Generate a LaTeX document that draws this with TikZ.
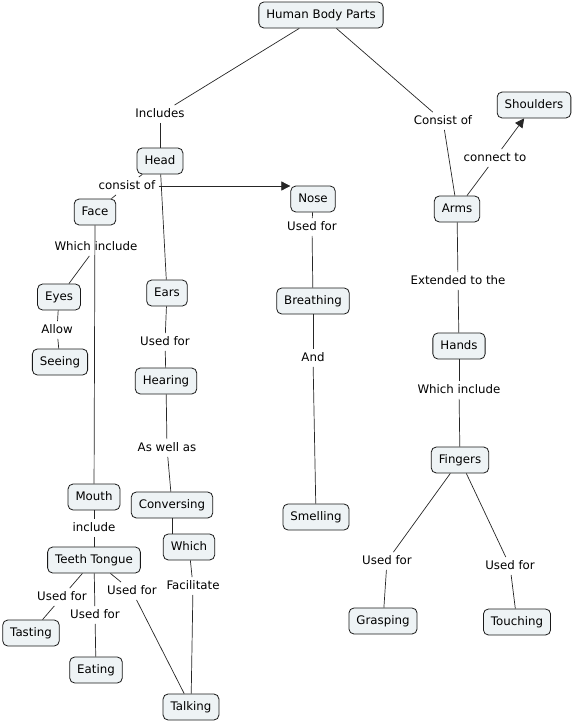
\documentclass[tikz,border=0pt]{standalone}
\usepackage{fontspec}
\setmainfont{DejaVu Sans}
\usepackage{tikz}
\usetikzlibrary{arrows.meta, positioning}
\usepackage{xcolor}
\definecolor{conceptfill}{HTML}{EEF3F5}
\tikzstyle{concept} = [draw=black!90, fill=conceptfill, rounded corners=5pt, line width=0.8pt, minimum height=26pt, inner xsep=7.5pt, text height=8.7pt, text depth=2.5pt, font=\fontsize{11.8}{13}\selectfont]
\tikzstyle{phrase} = [inner xsep=3pt, inner ysep=3pt, text height=8.7pt, text depth=2.5pt, font=\fontsize{11.8}{13}\selectfont]
\tikzstyle{arrow} = [->,>={Triangle[length=9pt,width=9pt]}]

\begin{document}
\begin{tikzpicture}[x=1pt, y=-1pt, line width=0.7pt, draw=black!85]
    \useasboundingbox (0,0) rectangle (573,723);
    % concepts
    \node[concept] (body) at (321,15) {Human Body Parts};
    \node[concept] (head) at (160,161) {Head};
    \node[concept] (face) at (95,212) {Face};
    \node[concept] (nose) at (313,199) {Nose};
    \node[concept] (ears) at (167,293) {Ears};
    \node[concept] (eyes) at (59,297) {Eyes};
    \node[concept] (seeing) at (60,362) {Seeing};
    \node[concept] (mouth) at (94,497) {Mouth};
    \node[concept] (teeth) at (94,560) {Teeth Tongue};
    \node[concept] (tasting) at (31,633) {Tasting};
    \node[concept] (eating) at (96,670) {Eating};
    \node[concept] (talking) at (191,707) {Talking};
    \node[concept] (hearing) at (166,381) {Hearing};
    \node[concept] (conversing) at (172,505) {Conversing};
    \node[concept] (which) at (189,547) {Which};
    \node[concept] (breathing) at (313,301) {Breathing};
    \node[concept] (smelling) at (316,517) {Smelling};
    \node[concept] (arms) at (457,209) {Arms};
    \node[concept] (shoulders) at (534,105) {Shoulders};
    \node[concept] (hands) at (459,346) {Hands};
    \node[concept] (fingers) at (460,460) {Fingers};
    \node[concept] (grasping) at (383,621) {Grasping};
    \node[concept] (touching) at (517,622) {Touching};
    % linking phrases
    \node[phrase] (includes) at (160,114) {Includes};
    \node[phrase] (consist) at (127,186) {consist of};
    \node[phrase] (consistof) at (443,121) {Consist of};
    \node[phrase] (connect) at (495,158) {connect to};
    \node[phrase] (whichface) at (96,247) {Which include};
    \node[phrase] (allow) at (57,330) {Allow};
    \node[phrase] (include) at (94,528) {include};
    \node[phrase] (usedtaste) at (62,597) {Used for};
    \node[phrase] (usedeat) at (95,615) {Used for};
    \node[phrase] (usedtalk) at (132,591) {Used for};
    \node[phrase] (usedhear) at (165,342) {Used for};
    \node[phrase] (aswell) at (167,448) {As well as};
    \node[phrase] (facilitate) at (193,586) {Facilitate};
    \node[phrase] (usednose) at (312,227) {Used for};
    \node[phrase] (and) at (313,358) {And};
    \node[phrase] (extended) at (458,281) {Extended to the};
    \node[phrase] (whichhand) at (459,390) {Which include};
    \node[phrase] (usedgrasp) at (387,561) {Used for};
    \node[phrase] (usedtouch) at (510,566) {Used for};
    % links
    \draw (body) edge (includes)
        (includes) edge (head)
        (head) edge (consist)
        (consist) edge (face)
        (consist.east) edge[arrow] (consist.east -| nose.west)
        (head) edge (ears)
        (face) edge (mouth)
        (whichface) edge (eyes)
        (eyes) edge (allow)
        (allow) edge (seeing)
        (mouth) edge (include)
        (include) edge (teeth)
        (teeth) edge (usedtaste)
        (usedtaste) edge (tasting)
        (teeth) edge (usedeat)
        (usedeat) edge (eating)
        (teeth) edge (usedtalk)
        (usedtalk) edge (talking)
        (ears) edge (usedhear)
        (usedhear) edge (hearing)
        (hearing) edge (aswell)
        (aswell) edge (conversing)
        (conversing.south) edge (conversing.south |- which.north)
        (which) edge (facilitate)
        (facilitate) edge (talking)
        (nose) edge (usednose)
        (usednose) edge (breathing)
        (breathing) edge (and)
        (and) edge (smelling)
        (body) edge (consistof)
        (consistof) edge (arms)
        (arms) edge (connect)
        (connect) edge[arrow] (shoulders)
        (arms) edge (extended)
        (extended) edge (hands)
        (hands) edge (whichhand)
        (whichhand) edge (fingers)
        (fingers) edge (usedgrasp)
        (usedgrasp) edge (grasping)
        (fingers) edge (usedtouch)
        (usedtouch) edge (touching);
\end{tikzpicture}
\end{document}
